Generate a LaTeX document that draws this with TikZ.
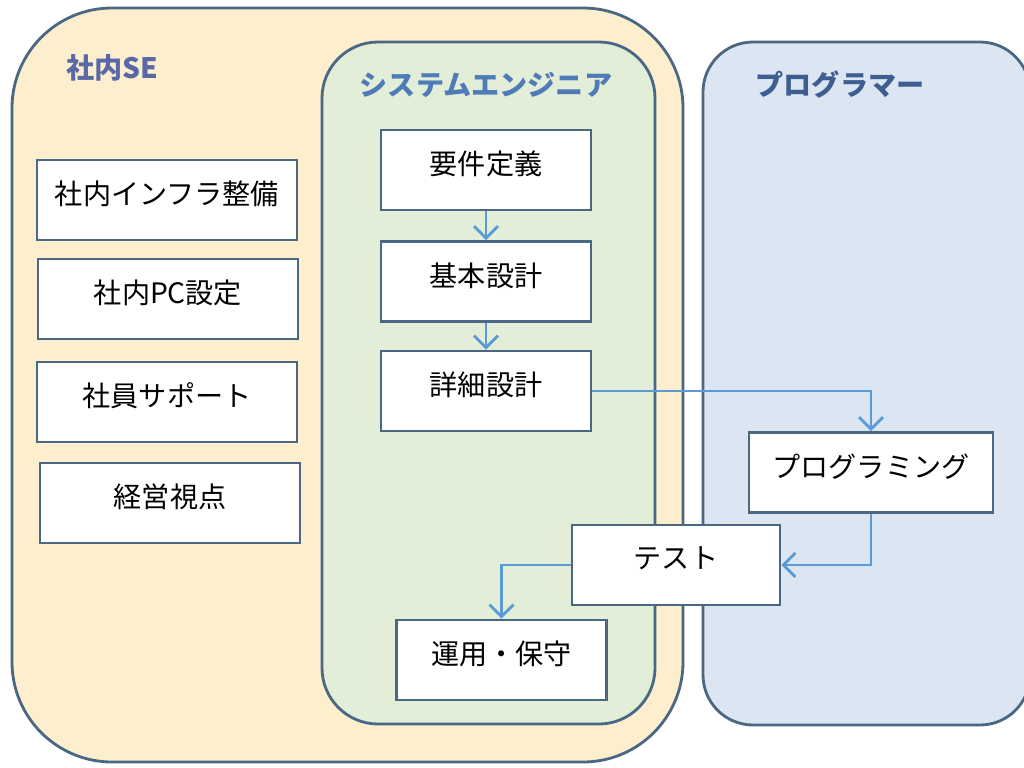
\documentclass[tikz,border=0pt]{standalone}
\usepackage{fontspec}
\newfontfamily\jpfont{Noto Sans CJK JP}
\usepackage{tikz}
\usetikzlibrary{arrows.meta}

\definecolor{seyellow}{HTML}{FDEFCE}
\definecolor{segreen}{HTML}{E3EED8}
\definecolor{pgblue}{HTML}{DCE6F2}
\definecolor{frame}{HTML}{4A6784}
\definecolor{flowblue}{HTML}{5B9BD5}
\definecolor{titleA}{HTML}{5A68A8}
\definecolor{titleB}{HTML}{4F7BB8}
\definecolor{titleC}{HTML}{3E5E92}

\begin{document}
\begin{tikzpicture}[x=0.025cm,y=-0.025cm,
		task/.style={draw=frame, line width=2pt, fill=white, minimum height=2cm, text depth=0.35cm, font=\jpfont\fontsize{20}{24}\selectfont},
		flow/.style={draw=flowblue, line width=2pt, arrows={-Straight Barb[length=3mm,width=6mm]}},
		title/.style={font=\jpfont\bfseries\fontsize{20}{24}\selectfont}]
			
			\useasboundingbox (0,0) rectangle (1024,768);
			\fill[white] (0,0) rectangle (1024,768);
			
			% group areas
			\draw[line width=2pt, draw=frame, fill=seyellow, rounded corners=2.5cm] (12,8) rectangle (683,762);
			\draw[line width=2pt, draw=frame, fill=segreen, rounded corners=1.4cm] (322,42) rectangle (655,724);
			\draw[line width=2pt, draw=frame, fill=pgblue, rounded corners=1.25cm] (703,42) rectangle (1030,725);
			
			%labels groups
			\node[title, titleA] (shanai) at (112,68) {社内SE};
			\node[title, titleB] (syse) at (486,85) {システムエンジニア};
			\node[title, titleC] (progr) at (840,85) {プログラマー};
			
			% left column
			\node[task, minimum width=6.5cm] (infra) at (167,200) {社内インフラ整備};
			\node[task, minimum width=6.5cm] (pcset) at (168,299) {社内PC設定};
			\node[task, minimum width=6.5cm] (support) at (167,402) {社員サポート};
			\node[task, minimum width=6.5cm] (keiei) at (170,503) {経営視点};
			
			% process steps
			\node[task, minimum width=5.25cm] (yoken) at (486,170) {要件定義};
			\node[task, minimum width=5.25cm] (kihon) at (486,281.5) {基本設計};
			\node[task, minimum width=5.25cm] (shosai) at (486,391) {詳細設計};
			\node[task, minimum width=6.1cm] (coding) at (871,472.5) {プログラミング};
			\node[task, minimum width=5.2cm] (test) at (676,565) {テスト};
			\node[task, minimum width=5.25cm] (unyou) at (501.5,660) {運用・保守};
			
			%arrows
			\draw[flow] (yoken) -- (kihon);
			\draw[flow] (kihon) -- (shosai);
			\draw[flow] (shosai.east) -| (coding.north);
			\draw[flow] (coding.south) |- (test.east);
			\draw[flow] (test.west) -| (unyou.north);
			
\end{tikzpicture}
\end{document}
